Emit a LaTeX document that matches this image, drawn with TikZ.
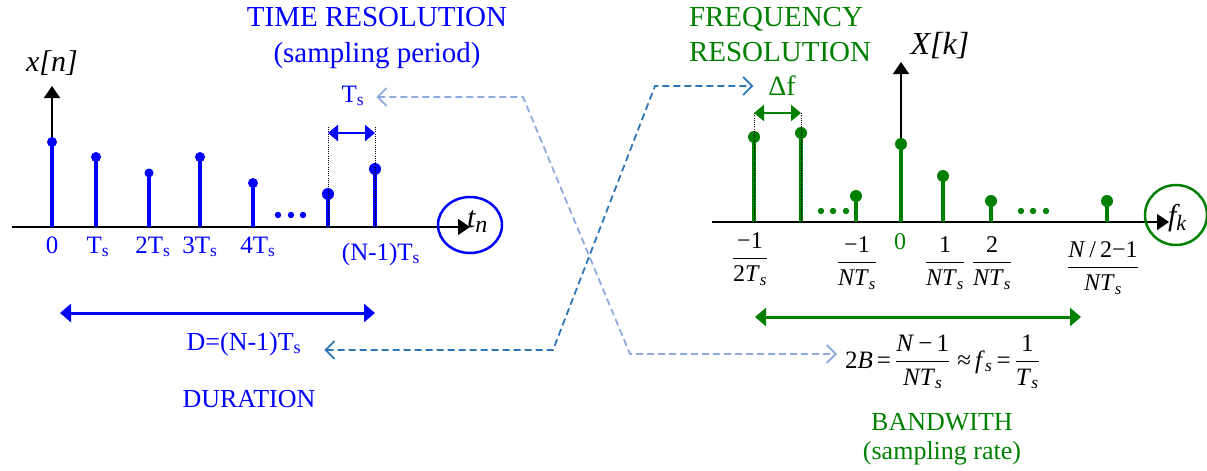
\documentclass[tikz,border=0pt]{standalone}
\usepackage{amsmath}
\usepackage{fontspec}
\setmainfont{Liberation Serif}
\usetikzlibrary{arrows.meta,calc}
\definecolor{tblue}{RGB}{0,0,255}
\definecolor{tgreen}{RGB}{0,128,0}
\definecolor{dlight}{RGB}{143,170,220}
\definecolor{ddark}{RGB}{46,117,182}
\newcommand\fsz[2]{\fontsize{#1}{#2}\selectfont}
\newcommand\myfrac[2]{\ensuremath{\dfrac{\text{#1}}{\text{#2}}}}
\newcommand\mysub[1]{\textsubscript{#1}}
\begin{document}
\begin{tikzpicture}[x=1pt,y=-1pt,
  txt/.style={inner sep=0pt,outer sep=0pt},
  axisarrow/.style={black,line width=1.5pt,-{Triangle[length=12pt,width=16pt]}},
  bstem/.style={tblue,line width=3.3pt},
  gstem/.style={tgreen,line width=3.3pt},
  dotov/.style={black,line width=0.8pt,dash pattern=on 1pt off 1.2pt},
  dimarrow/.style={line width=2.5pt,{Triangle[length=10pt,width=16pt]}-{Triangle[length=10pt,width=16pt]}},
  conn/.style={line width=1.8pt,dash pattern=on 7pt off 4pt,{Straight Barb[length=9pt,width=18pt]}-{Straight Barb[length=9pt,width=18pt]}},
  lbl/.style={txt,tblue,anchor=base,font={\fontsize{25}{30}\selectfont}},
  rlbl/.style={txt,anchor=center,font={\fontsize{24}{29}\selectfont}},
  ]
\useasboundingbox (0,0) rectangle (1207,471);

% ---------------- left: time domain ----------------
\draw[axisarrow] (12,227) -- (470,227);
\draw[axisarrow] (52,227) -- (52,86);
\foreach \x/\y/\r in {52/142/5pt,96/157/5pt,149/173/4.5pt,200/157/5pt,253/183/5pt,328/194/6pt,375/169/6pt}{
  \draw[bstem] (\x,227) -- (\x,\y);
  \fill[tblue] (\x,\y) circle[radius=\r];
}
\foreach \x in {278,291,303}{\fill[tblue] (\x,215) circle[radius=3.2pt];}
\draw[dotov] (328,227) -- (328,127);
\draw[dotov] (375,227) -- (375,127);
\coordinate (tsa) at (328,133);
\coordinate (tsb) at (375,133);
\draw[dimarrow,tblue] (tsa) -- (tsb);
\draw[tblue,line width=2.5pt] (470,225) ellipse[x radius=32pt,y radius=28pt];

\node[txt,anchor=base] (xn) at (52,71) {\fsz{30}{36}\itshape x[n]};
\node[txt,anchor=base west] (tn) at (467,227) {\fsz{30}{36}\itshape t\raisebox{-5pt}{\fsz{24}{28}n}};
\node[txt,tblue,align=center,anchor=north,font={\fontsize{29}{36}\selectfont}] (tres) at (377,7) {TIME RESOLUTION\\(sampling period)};
\node[lbl] (tslab) at (353,102) {T\mysub{s}};
\node[lbl] (t0) at (52,253) {0};
\node[lbl] (t1) at (98,253) {T\mysub{s}};
\node[lbl] (t2) at (153,253) {2T\mysub{s}};
\node[lbl] (t3) at (200,253) {3T\mysub{s}};
\node[lbl] (t4) at (258,253) {4T\mysub{s}};
\node[lbl] (tN) at (381,260) {(N-1)T\mysub{s}};
\coordinate (da) at (60,313);
\coordinate (db) at (375,313);
\draw[tblue,line width=3pt,{Triangle[length=11pt,width=18pt]}-{Triangle[length=11pt,width=18pt]}] (da) -- (db);
\node[txt,tblue,anchor=base,font={\fontsize{26}{30}\selectfont}] (dlab) at (244,350) {D=(N-1)T\mysub{s}};
\node[txt,tblue,anchor=base,font={\fontsize{26}{30}\selectfont}] (dur) at (249,407) {DURATION};

% ---------------- right: frequency domain ----------------
\draw[axisarrow] (712,222) -- (1169,222);
\draw[axisarrow] (901,222) -- (901,62);
\foreach \x/\y in {754/137,801/133,856/196,901/144,943/176,991/201,1107/201}{
  \draw[gstem] (\x,222) -- (\x,\y);
  \fill[tgreen] (\x,\y) circle[radius=6pt];
}
\foreach \x in {821,833,846,1021,1033,1046}{\fill[tgreen] (\x,211) circle[radius=3.2pt];}
\draw[dotov] (754,222) -- (754,113);
\draw[dotov] (801,222) -- (801,113);
\coordinate (dfa) at (754,113);
\coordinate (dfb) at (801,113);
\draw[dimarrow,tgreen] (dfa) -- (dfb);
\draw[tgreen,line width=2.5pt] (1176,215) ellipse[x radius=31pt,y radius=30pt];

\node[txt,anchor=base] (Xk) at (940,54) {\fsz{32}{38}\itshape X[k]};
\node[txt,anchor=base west] (fk) at (1168,225) {\fsz{30}{36}\itshape f\raisebox{-5pt}{\fsz{22}{26}k}};
\node[txt,tgreen,align=left,anchor=north west,font={\fontsize{29}{35}\selectfont}] (fres) at (689,7) {FREQUENCY\\RESOLUTION};
\node[txt,tgreen,anchor=base,font={\fontsize{28}{34}\selectfont}] (df) at (782,95) {Δf};
\node[rlbl] (f1) at (750,259) {\myfrac{−1}{2\textit{T}\mysub{\textit{s}}}};
\node[rlbl] (f2) at (857,263) {\myfrac{−1}{\textit{NT}\mysub{\textit{s}}}};
\node[rlbl,tgreen] (f3) at (900,242) {0};
\node[rlbl] (f4) at (945,263) {\myfrac{1}{\textit{NT}\mysub{\textit{s}}}};
\node[rlbl] (f5) at (992,263) {\myfrac{2}{\textit{NT}\mysub{\textit{s}}}};
\node[rlbl] (f6) at (1103,268) {\myfrac{\textit{N}\,/\,2−1}{\textit{NT}\mysub{\textit{s}}}};
\coordinate (ba) at (755,317);
\coordinate (bb) at (1081,317);
\draw[tgreen,line width=3pt,{Triangle[length=11pt,width=18pt]}-{Triangle[length=11pt,width=18pt]}] (ba) -- (bb);
\node[txt,anchor=west,font={\fontsize{25}{30}\selectfont}] (form) at (845,362)
  {2\textit{B}\,=\,\myfrac{\textit{N}\,−\,1}{\textit{NT}\mysub{\textit{s}}}\;≈\,\textit{f}\mysub{\textit{s}}\,=\,\myfrac{1}{\textit{T}\mysub{\textit{s}}}};
\node[txt,tgreen,align=center,anchor=north,font={\fontsize{26}{29}\selectfont}] (bw) at (942,413) {BANDWITH\\(sampling rate)};

% ---------------- dashed connectors ----------------
\coordinate (lb1) at (523,97);
\coordinate (lb2) at (630,354);
\draw[conn,dlight] ($(lb1 -| tslab.east)+(12,0)$) -- (lb1) -- (lb2) -- ($(lb2 -| form.west)+(-8,0)$);
\coordinate (db1) at (553,350);
\coordinate (db2) at (655,86);
\draw[conn,ddark] ($(db1 -| dlab.east)+(23,0)$) -- (db1) -- (db2) -- ($(db2 -| df.west)+(-15,0)$);
\end{tikzpicture}
\end{document}
